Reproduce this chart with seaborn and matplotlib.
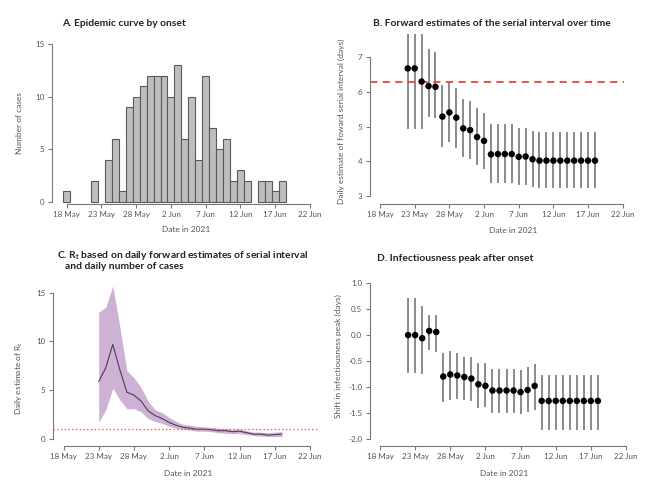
import numpy as np
import pandas as pd
import matplotlib
matplotlib.use('Agg')
import matplotlib.pyplot as plt
import matplotlib.dates as mdates
import seaborn as sns

# ---- data ----
# A. epidemic curve by onset (days with zero cases left out)
onset_days = ['2021-05-18', '2021-05-22', '2021-05-24', '2021-05-25', '2021-05-26', '2021-05-27',
              '2021-05-28', '2021-05-29', '2021-05-30', '2021-05-31', '2021-06-01', '2021-06-02',
              '2021-06-03', '2021-06-04', '2021-06-05', '2021-06-06', '2021-06-07', '2021-06-08',
              '2021-06-09', '2021-06-10', '2021-06-11', '2021-06-12', '2021-06-13', '2021-06-15',
              '2021-06-16', '2021-06-17', '2021-06-18']
onset_cases = [1, 2, 4, 6, 1, 9, 10, 11, 12, 12, 12, 10, 13, 6, 10, 4, 12, 7, 5, 6, 2, 3, 2, 2, 2, 1, 2]

# B. forward serial interval estimates, 22 May - 18 Jun
est_start, est_end = '2021-05-22', '2021-06-18'
si_mean = [6.68, 6.68, 6.30, 6.17, 6.15, 5.29, 5.41, 5.26, 4.95, 4.90, 4.70, 4.59, 4.20, 4.21,
           4.21, 4.21, 4.13, 4.14, 4.06, 4.02, 4.02, 4.02, 4.02, 4.02, 4.02, 4.02, 4.02, 4.02]
si_low = [4.93, 4.93, 4.93, 5.29, 5.26, 4.42, 4.57, 4.38, 4.12, 4.06, 3.89, 3.78, 3.37, 3.38,
          3.38, 3.38, 3.32, 3.32, 3.25, 3.22, 3.22, 3.22, 3.22, 3.22, 3.22, 3.22, 3.22, 3.22]
si_high = [7.9, 7.9, 7.9, 7.23, 7.16, 6.20, 6.30, 6.12, 5.80, 5.74, 5.55, 5.39, 5.07, 5.08,
           5.08, 5.08, 4.97, 4.97, 4.88, 4.86, 4.86, 4.86, 4.86, 4.86, 4.86, 4.86, 4.86, 4.86]
si_overall = 6.3

# C. Rt, 23 May - 18 Jun
rt_start, rt_end = '2021-05-23', '2021-06-18'
rt_mean = [5.9, 7.3, 9.7, 7.1, 4.8, 4.5, 3.9, 2.9, 2.4, 2.1, 1.7, 1.4, 1.2, 1.1, 1.0, 1.0,
           0.95, 0.85, 0.85, 0.75, 0.8, 0.65, 0.5, 0.5, 0.4, 0.45, 0.5]
rt_low = [1.7, 3.0, 5.2, 4.0, 3.1, 3.1, 2.8, 2.1, 1.8, 1.6, 1.3, 1.1, 1.0, 0.9, 0.8, 0.8,
          0.75, 0.65, 0.6, 0.55, 0.55, 0.45, 0.35, 0.3, 0.25, 0.25, 0.25]
rt_high = [13.0, 13.5, 15.7, 11.5, 7.0, 6.3, 5.3, 3.9, 3.0, 2.7, 2.2, 1.8, 1.5, 1.4, 1.3, 1.25,
           1.2, 1.1, 1.1, 1.0, 1.0, 0.85, 0.7, 0.7, 0.65, 0.7, 0.75]
rt_threshold = 1.0

# D. shift in infectiousness peak, 22 May - 18 Jun
peak_mean = [0.0, 0.0, -0.06, 0.08, 0.06, -0.80, -0.76, -0.78, -0.81, -0.84, -0.95, -0.98, -1.07, -1.07,
             -1.07, -1.07, -1.10, -1.06, -0.98, -1.27, -1.27, -1.27, -1.27, -1.27, -1.27, -1.27, -1.27, -1.27]
peak_low = [-0.73, -0.73, -0.76, -0.29, -0.32, -1.29, -1.25, -1.24, -1.25, -1.27, -1.41, -1.39, -1.50, -1.50,
            -1.50, -1.50, -1.53, -1.48, -1.45, -1.83, -1.83, -1.83, -1.83, -1.83, -1.83, -1.83, -1.83, -1.83]
peak_high = [0.71, 0.71, 0.56, 0.39, 0.39, -0.34, -0.30, -0.35, -0.42, -0.43, -0.53, -0.53, -0.65, -0.65,
             -0.65, -0.65, -0.68, -0.62, -0.56, -0.77, -0.77, -0.77, -0.77, -0.77, -0.77, -0.77, -0.77, -0.77]

tick_days = ['2021-05-18', '2021-05-23', '2021-05-28', '2021-06-02', '2021-06-07',
             '2021-06-12', '2021-06-17', '2021-06-22']
tick_labels = ['18 May', '23 May', '28 May', '2 Jun', '7 Jun', '12 Jun', '17 Jun', '22 Jun']

# ---- style ----
sns.set_theme(style='ticks')
plt.rcParams['font.family'] = ['Lato', 'DejaVu Sans']
plt.rcParams['mathtext.fontset'] = 'custom'
plt.rcParams['mathtext.rm'] = 'Lato'
plt.rcParams['mathtext.bf'] = 'Lato:bold'

W, H = 667, 488
AX_COL = '#7a7a7a'
TXT_COL = '#555555'

def dnum(days):
    return mdates.date2num(pd.to_datetime(days))

ticks_num = dnum(tick_days)

fig = plt.figure(figsize=(W / 100, H / 100), dpi=100)


def make_axes(box, xref, yref):
    """box = (left, top, right, bottom) in px; xref/yref = ((px, value), (px, value))."""
    left, top, right, bottom = box
    ax = fig.add_axes([left / W, 1 - bottom / H, (right - left) / W, (bottom - top) / H])
    return ax, box, xref, yref


def finish(ax, box, xref, yref, yticks, yfmt=None):
    left, top, right, bottom = box
    (px0, v0), (px1, v1) = xref
    sx = (v1 - v0) / (px1 - px0)
    ax.set_xlim(v0 + (left - px0) * sx, v0 + (right - px0) * sx)
    (py0, w0), (py1, w1) = yref
    sy = (w1 - w0) / (py1 - py0)
    ax.set_ylim(w0 + (bottom - py0) * sy, w0 + (top - py0) * sy)
    for s in ['top', 'right']:
        ax.spines[s].set_visible(False)
    for s in ['left', 'bottom']:
        ax.spines[s].set_color(AX_COL)
        ax.spines[s].set_linewidth(0.8)
    ax.spines['bottom'].set_bounds(ticks_num[0], ticks_num[-1])
    ax.spines['left'].set_bounds(yticks[0], yticks[-1])
    ax.set_xticks(ticks_num)
    ax.set_xticklabels(tick_labels)
    ax.set_yticks(yticks)
    if yfmt:
        ax.set_yticklabels([yfmt.format(t) for t in yticks])
    ax.tick_params(length=3, width=0.8, color=AX_COL, labelsize=5.8, labelcolor=TXT_COL, pad=2.5)
    ax.set_xlabel('')
    ax.set_ylabel('')
    ax.set_facecolor('none')


def title(x, y, s):
    fig.text(x / W, 1 - y / H, s, fontsize=7.4, fontweight='bold', color='#222222', va='center', ha='left')


def label(x, y, s, rot=0):
    fig.text(x / W, 1 - y / H, s, fontsize=6.0, color=TXT_COL, va='center', ha='center', rotation=rot)


est_num = dnum(pd.date_range(est_start, est_end))
rt_num = dnum(pd.date_range(rt_start, rt_end))

# ---- A ----
axA, *cfgA = make_axes((52, 38, 318, 203.5),
                       ((66.7, ticks_num[0]), (310, ticks_num[-1])),
                       ((202, 0), (44, 15)))
sns.barplot(x=dnum(onset_days), y=onset_cases, native_scale=True, width=1, ax=axA,
            color='#bebebe', saturation=1, edgecolor='#5a5a5a', linewidth=0.8, errorbar=None)
finish(axA, *cfgA, yticks=[0, 5, 10, 15])
title(62, 23.5, 'A. Epidemic curve by onset')
label(186, 229.5, 'Date in 2021')
label(20, 123, 'Number of cases', rot=90)

# ---- B ----
axB, *cfgB = make_axes((370, 33.5, 624, 203.5),
                       ((380, ticks_num[0]), (622.7, ticks_num[-1])),
                       ((196, 3), (57.3, 7)))
axB.vlines(est_num, si_low, si_high, color='#6b6b6b', lw=1.1)
sns.scatterplot(x=est_num, y=si_mean, color='black', s=22, edgecolor='none', ax=axB, zorder=3)
axB.axhline(si_overall, color='#e8453c', lw=1.3, ls=(0, (4, 3)))
finish(axB, *cfgB, yticks=[3, 4, 5, 6, 7])
title(373, 23, 'B. Forward estimates of the serial interval over time')
label(513, 230.5, 'Date in 2021')
label(341.5, 121, 'Daily estimate of foward serial interval (days)', rot=90)

# ---- C ----
axC, *cfgC = make_axes((53, 285, 318, 445.7),
                       ((63.5, ticks_num[0]), (310, ticks_num[-1])),
                       ((439, 0), (292.7, 15)))
axC.fill_between(rt_num, rt_low, rt_high, color='#cdb2d6', lw=0)
sns.lineplot(x=rt_num, y=rt_mean, color='#4d3d52', lw=0.8, ax=axC)
axC.axhline(rt_threshold, color='#e8453c', lw=0.9, ls=(0, (1, 2)))
finish(axC, *cfgC, yticks=[0, 5, 10, 15])
title(57, 255.5, 'C. R$_\\mathbf{t}$ based on daily forward estimates of serial interval')
title(65, 266.5, 'and daily number of cases')
label(188.5, 474, 'Date in 2021')
label(19.5, 378, 'Daily estimate of R$_\\mathrm{t}$', rot=90)

# ---- D ----
axD, *cfgD = make_axes((370, 278, 630, 445.7),
                       ((380, ticks_num[0]), (626, ticks_num[-1])),
                       ((438.7, -2.0), (283.3, 1.0)))
axD.vlines(est_num, peak_low, peak_high, color='#6b6b6b', lw=1.1)
sns.scatterplot(x=est_num, y=peak_mean, color='black', s=22, edgecolor='none', ax=axD, zorder=3)
finish(axD, *cfgD, yticks=[-2.0, -1.5, -1.0, -0.5, 0.0, 0.5, 1.0], yfmt='{:.1f}')
title(377, 258.5, 'D. Infectiousness peak after onset')
label(504, 473.5, 'Date in 2021')
label(338, 356, 'Shift in infectiousness peak (days)', rot=90)

fig.savefig('out.png', dpi=100)
